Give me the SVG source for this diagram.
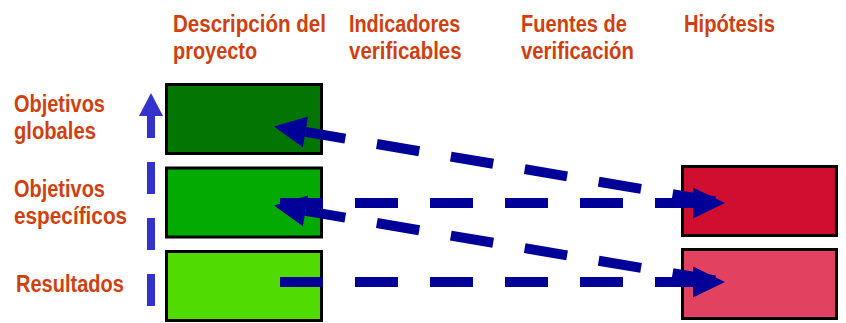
<svg xmlns="http://www.w3.org/2000/svg" width="846" height="323" viewBox="0 0 846 323">
  <style>
    .lbl { font-family: "Liberation Sans", Arial, sans-serif; font-size: 24px; font-weight: bold; fill: #D13F0F; }
    .box { stroke: #000; stroke-width: 3; }
    .conn { fill: none; stroke: #000099; stroke-width: 10; stroke-dasharray: 43 32; }
    .vconn { fill: none; stroke: #3333CC; stroke-width: 8; stroke-dasharray: 32 24; }
  </style>
  <defs>
    <marker id="ah" markerUnits="userSpaceOnUse" markerWidth="34" markerHeight="32" refX="0" refY="15.5" orient="auto" overflow="visible">
      <path d="M0,0 L32,15.5 L0,31 Z" fill="#000099"/>
    </marker>
    <marker id="vah" markerUnits="userSpaceOnUse" markerWidth="24" markerHeight="24" refX="0" refY="12" orient="auto" overflow="visible">
      <path d="M0,0 L23,12 L0,24 Z" fill="#3333CC"/>
    </marker>
  </defs>
  <rect width="846" height="323" fill="#ffffff"/>

  <g id="headers">
    <text class="lbl" transform="translate(173,31.5) scale(0.856,1)">Descripción del</text>
    <text class="lbl" transform="translate(173,59) scale(0.83,1)">proyecto</text>
    <text class="lbl" transform="translate(349,31.5) scale(0.826,1)">Indicadores</text>
    <text class="lbl" transform="translate(349,59) scale(0.853,1)">verificables</text>
    <text class="lbl" transform="translate(521,31.5) scale(0.837,1)">Fuentes de</text>
    <text class="lbl" transform="translate(521,59) scale(0.847,1)">verificación</text>
    <text class="lbl" transform="translate(684,31.5) scale(0.842,1)">Hipótesis</text>
  </g>

  <g id="row-labels">
    <text class="lbl" transform="translate(14,111.5) scale(0.832,1)">Objetivos</text>
    <text class="lbl" transform="translate(14,138.5) scale(0.842,1)">globales</text>
    <text class="lbl" transform="translate(14,196.5) scale(0.832,1)">Objetivos</text>
    <text class="lbl" transform="translate(14,224) scale(0.866,1)">específicos</text>
    <text class="lbl" transform="translate(16,291.5) scale(0.835,1)">Resultados</text>
  </g>

  <g id="node-objetivos-globales">
    <rect class="box" x="166.5" y="84.5" width="155" height="69" fill="#037503"/>
  </g>
  <g id="node-objetivos-especificos">
    <rect class="box" x="166.5" y="168" width="155" height="69" fill="#02AA02"/>
  </g>
  <g id="node-resultados">
    <rect class="box" x="166.5" y="251.5" width="155" height="69" fill="#50DC00"/>
  </g>
  <g id="node-hipotesis-1">
    <rect class="box" x="682.5" y="166.5" width="154" height="69" fill="#D00E30"/>
  </g>
  <g id="node-hipotesis-2">
    <rect class="box" x="682.5" y="249.5" width="154" height="69" fill="#E24260"/>
  </g>

  <g id="connectors">
    <path class="vconn" d="M151,306 L151,116" marker-end="url(#vah)"/>
    <path class="conn" d="M280,203 L693,203" marker-end="url(#ah)"/>
    <path class="conn" d="M280,282 L693,282" marker-end="url(#ah)"/>
    <path class="conn" d="M715,201.5 L305.5,131.9" marker-end="url(#ah)"/>
    <path class="conn" d="M715,280.5 L305.5,210.9" marker-end="url(#ah)"/>
  </g>
</svg>
